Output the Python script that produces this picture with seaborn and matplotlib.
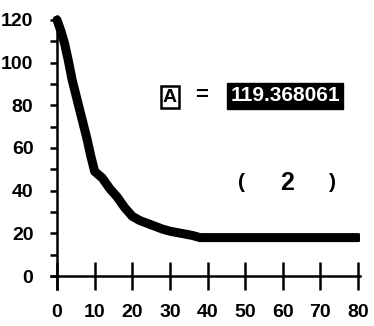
import matplotlib
matplotlib.use("Agg")
import matplotlib.pyplot as plt
import seaborn as sns
import pandas as pd
from matplotlib.ticker import MultipleLocator

# data
x_vals = [0, 1, 2, 3, 4, 5, 6, 7, 8, 9, 10, 12, 14, 16, 18, 20, 22, 25, 28, 30,
          33, 36, 38, 40, 50, 60, 70, 80]
y_vals = [120, 115, 109, 101, 92, 85, 78, 71, 64, 56, 49, 46, 41, 37, 32, 28, 26,
          24, 22, 21, 20, 19, 18, 18, 18, 18, 18, 18]
x_ticks = [0, 10, 20, 30, 40, 50, 60, 70, 80]
y_ticks = [0, 20, 40, 60, 80, 100, 120]
param_label = "A"
param_value = "119.368061"
index_label = "2"

sns.set_theme(style="white")
plt.rcParams['font.family'] = ['Liberation Sans', 'DejaVu Sans']
plt.rcParams['font.weight'] = 'bold'

fig = plt.figure(figsize=(3.74, 3.26), dpi=100)
ax = fig.add_axes([0.1374, 0.1141, 0.8249, 0.8377])

df = pd.DataFrame({"x": x_vals, "y": y_vals})
sns.lineplot(data=df, x="x", y="y", ax=ax, color="black", linewidth=6.5,
             solid_capstyle="round", solid_joinstyle="round")

ax.set_xlim(-1.5, 80.5)
ax.set_ylim(-6, 122)
ax.set_xlabel("")
ax.set_ylabel("")

for s in ["top", "right"]:
    ax.spines[s].set_visible(False)
ax.spines["left"].set_position(("data", 0))
ax.spines["bottom"].set_position(("data", 0))
for s in ["left", "bottom"]:
    ax.spines[s].set_color("black")
    ax.spines[s].set_linewidth(1.8)

ax.set_xticks(x_ticks)
ax.set_xticklabels([str(v) for v in x_ticks])
ax.set_yticks(y_ticks)
ax.set_yticklabels([str(v) for v in y_ticks])
ax.yaxis.set_minor_locator(MultipleLocator(10))

ax.tick_params(axis="x", which="major", direction="inout", length=20, width=1.8,
               color="black", pad=10, labelsize=14, labelcolor="black")
ax.tick_params(axis="y", which="both", direction="out", length=5, width=1.8,
               color="black", pad=12, labelsize=14, labelcolor="black")
ax.tick_params(left=True, bottom=True)
ax.tick_params(axis="y", which="minor", left=True)

ax.text(30.0, 83.9, param_label, ha="center", va="center", fontsize=14,
        fontweight="bold", color="black",
        bbox=dict(boxstyle="square,pad=0.12", fc="white", ec="black", lw=1.8))
ax.text(38.5, 84.4, "=", ha="center", va="center", fontsize=16,
        fontweight="bold", color="black")
ax.text(60.7, 84.4, param_value, ha="center", va="center", fontsize=15,
        fontweight="bold", color="white",
        bbox=dict(boxstyle="square,pad=0.15", fc="black", ec="black"))

ax.text(48.9, 43.6, "(", ha="center", va="center", fontsize=15,
        fontweight="bold", color="black")
ax.text(61.1, 43.6, index_label, ha="center", va="center", fontsize=18,
        fontweight="bold", color="black")
ax.text(73.1, 43.6, ")", ha="center", va="center", fontsize=15,
        fontweight="bold", color="black")

fig.savefig("out.png", dpi=100)
